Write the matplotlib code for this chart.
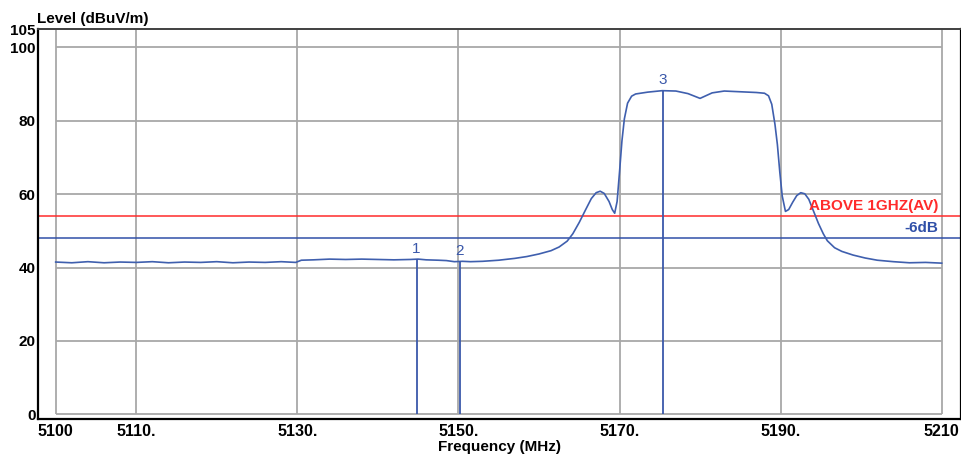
import matplotlib
matplotlib.use("Agg")
import matplotlib.pyplot as plt

plt.rcParams['font.family'] = ['Liberation Sans', 'DejaVu Sans']

# ---- data ----
freq_mhz = [5100, 5102, 5104, 5106, 5108, 5110, 5112, 5114, 5116, 5118, 5120, 5122,
            5124, 5126, 5128, 5129.8, 5130.5, 5132, 5134, 5136, 5138, 5140, 5142, 5144,
            5145, 5146, 5147.5, 5148.5, 5149.5, 5150.5, 5151.5, 5153, 5155, 5157, 5158.5,
            5160, 5161.5, 5162.5, 5163.5, 5164.2, 5165.0, 5165.8, 5166.5, 5167.1, 5167.6,
            5168.1, 5168.7, 5169.1, 5169.4, 5169.7, 5170.0, 5170.3, 5170.6, 5171.0, 5171.5,
            5172.0, 5173.5, 5175.3, 5177, 5178.5, 5180, 5181.5, 5183, 5185, 5187, 5188,
            5188.5, 5188.9, 5189.3, 5189.6, 5189.9, 5190.2, 5190.6, 5191.0, 5191.5, 5192.0,
            5192.5, 5193.0, 5193.5, 5194.1, 5194.7, 5195.3, 5195.8, 5196.7, 5197.6, 5199,
            5200.5, 5202, 5204, 5206, 5208, 5210]
level_dbuv = [41.5, 41.3, 41.6, 41.3, 41.5, 41.4, 41.6, 41.3, 41.5, 41.4, 41.6, 41.3,
              41.5, 41.4, 41.6, 41.4, 42.0, 42.1, 42.3, 42.2, 42.3, 42.2, 42.1, 42.2,
              42.3, 42.1, 42.0, 41.9, 41.6, 41.7, 41.6, 41.7, 42.0, 42.5, 43.0,
              43.7, 44.6, 45.6, 47.2, 49.2, 52.3, 55.8, 58.8, 60.4, 60.8,
              60.2, 58.0, 55.8, 54.8, 58.0, 66.0, 74.5, 80.5, 84.8, 86.7,
              87.3, 87.8, 88.2, 88.1, 87.4, 86.1, 87.6, 88.1, 87.9, 87.7, 87.5,
              86.8, 84.5, 79.0, 73.5, 66.0, 59.5, 55.3, 55.8, 57.8, 59.6,
              60.4, 60.1, 58.6, 55.3, 52.0, 49.2, 47.3, 45.4, 44.4, 43.4,
              42.6, 42.0, 41.6, 41.3, 41.4, 41.2]

marker_freq = [5144.8, 5150.15, 5175.4]
marker_level = [42.3, 41.7, 88.2]
marker_labels = ["1", "2", "3"]

limit_level = 54
limit_label = "ABOVE 1GHZ(AV)"
margin_level = 48
margin_label = "-6dB"

x_ticks = [5100, 5110, 5130, 5150, 5170, 5190, 5210]
x_tick_labels = ["5100", "5110.", "5130.", "5150.", "5170.", "5190.", "5210"]
y_ticks = [0, 20, 40, 60, 80, 100, 105]
y_tick_labels = ["0", "20", "40", "60", "80", "100", "105"]
x_grid = [5100, 5110, 5130, 5150, 5170, 5190, 5210]
y_grid = [0, 20, 40, 60, 80, 100]

# ---- figure ----
fig = plt.figure(figsize=(9.62, 4.57), dpi=100)
ax = fig.add_axes([0.0398, 0.0842, 0.9592, 0.8523])
ax.set_xlim(5097.84, 5212.4)
ax.set_ylim(-1.14, 105)

grid_c = '#a8a8a8'
ax.vlines(x_grid, 0, 105, colors=grid_c, linewidth=1.3, zorder=1)
ax.hlines(y_grid, 5100, 5210, colors=grid_c, linewidth=1.3, zorder=1)

blue = '#3f5fae'
red = '#ff2b2b'
ax.axhline(limit_level, xmin=0, xmax=1, color=red, linewidth=1.1, zorder=2)
ax.hlines(margin_level, 5097.84, 5212.4, colors='#3050a8', linewidth=1.1, zorder=2)
ax.plot(freq_mhz, level_dbuv, color=blue, linewidth=1.2, zorder=3)

for f, lv, lab in zip(marker_freq, marker_level, marker_labels):
    ax.vlines(f, 0, lv, colors='#3a58aa', linewidth=1.3, zorder=3)
    ax.text(f, lv + 0.9, lab, color='#3a58aa', fontsize=11, ha='center', va='bottom',
            zorder=4)

ax.text(5209.6, limit_level + 0.9, limit_label, color=red, fontsize=11,
        fontweight='bold', ha='right', va='bottom', zorder=4)
ax.text(5209.6, margin_level + 0.9, margin_label, color='#3050a8', fontsize=11,
        fontweight='bold', ha='right', va='bottom', zorder=4)

ax.set_xticks(x_ticks)
ax.set_xticklabels(x_tick_labels, fontsize=11.5, fontweight='bold')
ax.set_yticks(y_ticks)
ax.set_yticklabels(y_tick_labels, fontsize=11, fontweight='bold')
ax.tick_params(axis='both', length=0)
ax.tick_params(axis='x', pad=4)
ax.tick_params(axis='y', pad=2)

for s in ['left', 'bottom', 'right']:
    ax.spines[s].set_color('black')
    ax.spines[s].set_linewidth(1.6)
ax.spines['top'].set_color('#404040')
ax.spines['top'].set_linewidth(1.4)

fig.text(37 / 962, 1 - 23 / 457, "Level (dBuV/m)", fontsize=11, fontweight='bold',
         ha='left', va='baseline')
fig.text(499.5 / 962, 1 - 447 / 457, "Frequency (MHz)", fontsize=11, fontweight='bold',
         ha='center', va='center')

fig.savefig("out.png", dpi=100)
